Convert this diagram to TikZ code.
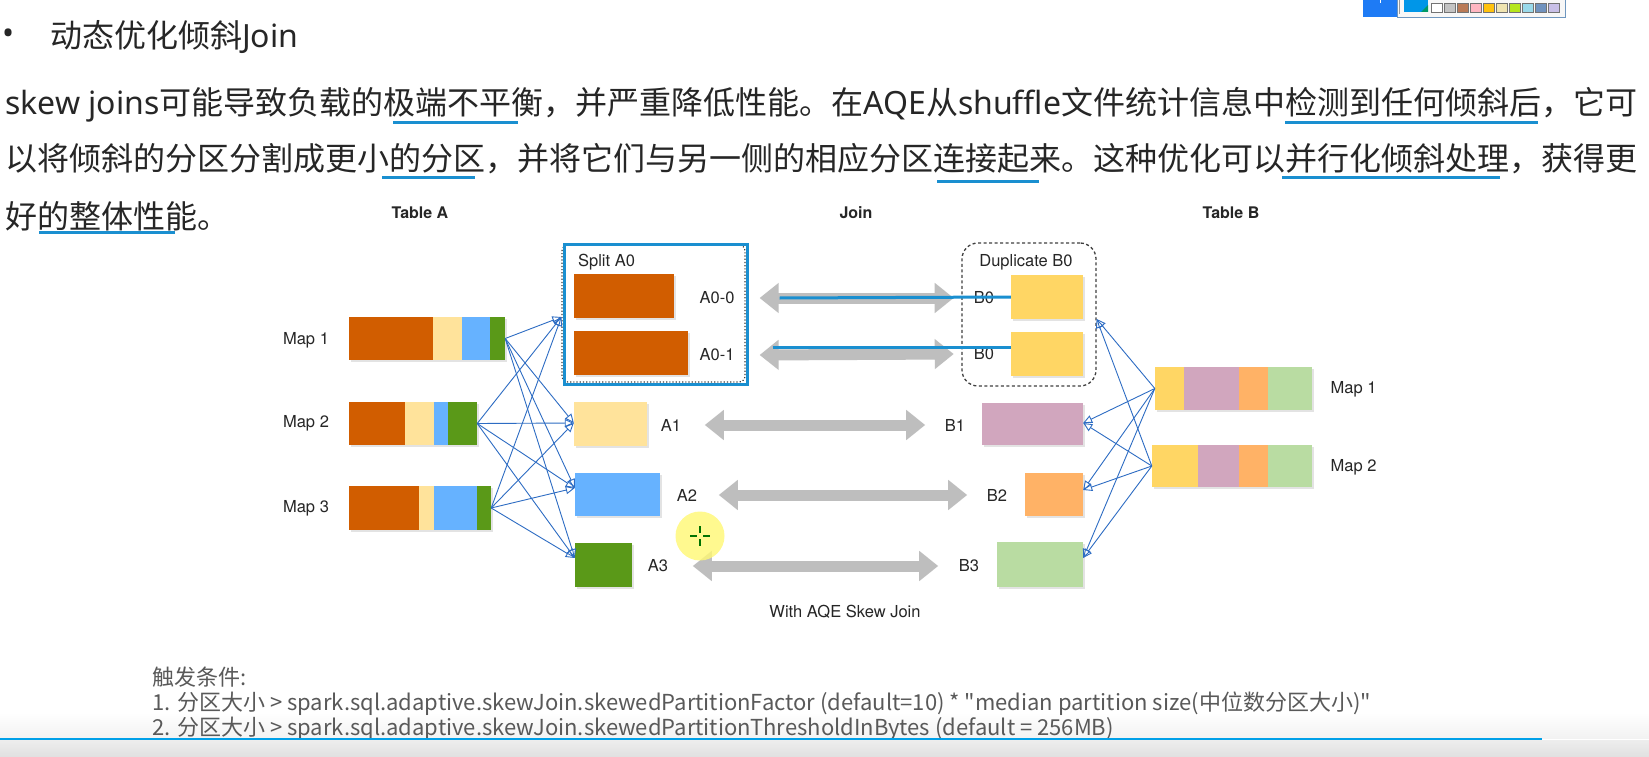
\documentclass[tikz,border=0pt]{standalone}
\usepackage{fontspec}
\setmainfont{Noto Sans}
\newfontfamily\zhfont{Noto Sans CJK SC}
\newfontfamily\diagfont{TeX Gyre Heros}
\font\qfont="Noto Sans CJK SC" at 22pt
\usetikzlibrary{arrows.meta,shadows}
\newcommand\zh[1]{{\zhfont #1}}
\newcommand\qt{{\qfont\char34}}
\definecolor{txt}{RGB}{38,38,38}
\definecolor{aorange}{RGB}{209,93,0}
\definecolor{ayellow}{RGB}{255,227,155}
\definecolor{ablue}{RGB}{102,178,255}
\definecolor{agreen}{RGB}{90,153,24}
\definecolor{byellow}{RGB}{255,214,100}
\definecolor{bmauve}{RGB}{209,166,190}
\definecolor{borange}{RGB}{255,178,102}
\definecolor{bgreen}{RGB}{185,220,162}
\definecolor{linkblue}{RGB}{45,108,195}
\definecolor{markblue}{RGB}{26,143,208}
\definecolor{arrowgray}{RGB}{190,190,190}
\definecolor{lineblue}{RGB}{0,160,232}
\definecolor{tbblue}{RGB}{30,123,245}
\definecolor{tbedge}{RGB}{110,150,190}
\definecolor{swblue}{RGB}{0,150,232}
\definecolor{swa}{RGB}{195,195,195}
\definecolor{swb}{RGB}{185,122,87}
\definecolor{swc}{RGB}{255,182,193}
\definecolor{swd}{RGB}{255,194,14}
\definecolor{swe}{RGB}{239,228,176}
\definecolor{swf}{RGB}{181,230,29}
\definecolor{swg}{RGB}{153,217,234}
\definecolor{swh}{RGB}{112,146,190}
\definecolor{swi}{RGB}{200,191,231}
\begin{document}
\begin{tikzpicture}[x=1pt,y=-1pt,
  part/.style={inner sep=0pt,drop shadow={shadow xshift=2pt,shadow yshift=-2pt,opacity=.22}},
  lbl/.style={inner sep=0pt,text=black!85,font=\diagfont\fontsize{16.5}{18}\selectfont},
  hdr/.style={inner sep=0pt,text=black!85,font=\diagfont\bfseries\fontsize{16}{18}\selectfont},
  link/.style={draw=linkblue,line width=.9pt,-{Triangle[open,length=9pt,width=8pt]}},
  wide/.style={draw=arrowgray,line width=11pt,{Triangle[length=19pt,width=29pt]}-{Triangle[length=19pt,width=29pt]}},
  hiline/.style={draw=markblue,line width=3pt},
  body/.style={anchor=base west,inner sep=0pt,text=txt,font=\fontsize{32}{32}\selectfont},
  foot/.style={anchor=base west,inner sep=0pt,text=black!65,font=\zhfont\fontsize{22}{22}\selectfont}]
\fill[white] (0,0) rectangle (1649,757);
\useasboundingbox (0,0) rectangle (1649,757);

\node[inner sep=0pt,text=txt,font=\fontsize{32}{32}\selectfont] (dot) at (9,37) {•};
\node[body] (title) at (50,48) {\zh{动态优化倾斜}Join};
\node[body] (line1) at (5,115) {skew joins\zh{可能导致负载的极端不平衡，并严重降低性能。在}AQE\zh{从}shuffle\zh{文件统计信息中检测到任何倾斜后，它可}};
\node[body] (line2) at (5,170) {\zh{以将倾斜的分区分割成更小的分区，并将它们与另一侧的相应分区连接起来。这种优化可以并行化倾斜处理，获得更}};
\node[body] (line3) at (5,228) {\zh{好的整体性能。}};
\draw[hiline] (393,122.5) -- (518,122.5);
\draw[hiline] (1285,122.5) -- (1538,122.5);
\draw[hiline] (382,177) -- (475,177);
\draw[hiline] (937,181) -- (1039,181);
\draw[hiline] (1282,177.5) -- (1500,177.5);
\draw[hiline] (39,232) -- (175,232);

\node[hdr] (ta) at (420,213) {Table A};
\node[hdr] (tj) at (856,213) {Join};
\node[hdr] (tb) at (1231,213) {Table B};

\node[part,fill=aorange,minimum width=156pt,minimum height=43pt] (am1) at (427,338.5) {};
\foreach \xa/\xb/\c in {433/462/ayellow,462/490/ablue,490/505/agreen} \fill[\c] (\xa,317) rectangle (\xb,360);
\node[part,fill=aorange,minimum width=128pt,minimum height=43pt] (am2) at (413,423.5) {};
\foreach \xa/\xb/\c in {405/434/ayellow,434/448/ablue,448/477/agreen} \fill[\c] (\xa,402) rectangle (\xb,445);
\node[part,fill=aorange,minimum width=142pt,minimum height=44pt] (am3) at (420,508) {};
\foreach \xa/\xb/\c in {419/434/ayellow,434/477/ablue,477/491/agreen} \fill[\c] (\xa,486) rectangle (\xb,530);
\node[lbl] (lam1) at (306,340) {Map 1};
\node[lbl] (lam2) at (306,423) {Map 2};
\node[lbl] (lam3) at (306,508) {Map 3};

\node[draw=black!75,dotted,line width=1.2pt,rounded corners=6pt,minimum width=183pt,minimum height=137pt,inner sep=0pt] (split) at (653.5,313.5) {};
\node[lbl] (lsplit) at (606.5,262) {Split A0};
\node[part,fill=aorange,minimum width=100pt,minimum height=44pt] (A00) at (624,296) {};
\node[part,fill=aorange,minimum width=114pt,minimum height=44pt] (A01) at (631,353) {};
\node[part,fill=ayellow,minimum width=73pt,minimum height=44pt] (A1) at (610.5,424) {};
\node[part,fill=ablue,minimum width=85pt,minimum height=43pt] (A2) at (617.5,494.5) {};
\node[part,fill=agreen,minimum width=57pt,minimum height=44pt] (A3) at (603.5,565) {};
\node[lbl] (la00) at (717,298) {A0-0};
\node[lbl] (la01) at (717,355) {A0-1};
\node[lbl] (la1) at (671,425) {A1};
\node[lbl] (la2) at (687,495) {A2};
\node[lbl] (la3) at (658,566) {A3};
\draw[hiline] (564,244) rectangle (747,384);

\node[draw=black!75,dash pattern=on 3pt off 2.5pt,line width=1.3pt,rounded corners=16pt,minimum width=134pt,minimum height=143pt,inner sep=0pt] (dup) at (1029,314.5) {};
\node[lbl] (ldup) at (1026,262) {Duplicate B0};
\node[part,fill=byellow,minimum width=72pt,minimum height=44pt] (B0a) at (1047,297) {};
\node[part,fill=byellow,minimum width=72pt,minimum height=44pt] (B0b) at (1047,354) {};
\node[part,fill=bmauve,minimum width=101pt,minimum height=42pt] (B1) at (1032.5,424) {};
\node[part,fill=borange,minimum width=58pt,minimum height=43pt] (B2) at (1054,494.5) {};
\node[part,fill=bgreen,minimum width=86pt,minimum height=45pt] (B3) at (1040,564.5) {};
\node[lbl] (lb0a) at (984,298) {B0};
\node[lbl] (lb0b) at (984,354) {B0};
\node[lbl] (lb1) at (955,425) {B1};
\node[lbl] (lb2) at (997,495) {B2};
\node[lbl] (lb3) at (969,566) {B3};

\node[part,fill=byellow,minimum width=157pt,minimum height=43pt] (bm1) at (1233.5,388.5) {};
\foreach \xa/\xb/\c in {1184/1239/bmauve,1239/1268/borange,1268/1312/bgreen} \fill[\c] (\xa,367) rectangle (\xb,410);
\node[part,fill=byellow,minimum width=160pt,minimum height=42pt] (bm2) at (1232,466) {};
\foreach \xa/\xb/\c in {1198/1239/bmauve,1239/1268/borange,1268/1312/bgreen} \fill[\c] (\xa,445) rectangle (\xb,487);
\node[lbl] (lbm1) at (1353.5,389) {Map 1};
\node[lbl] (lbm2) at (1353.5,467) {Map 2};

\foreach \s in {am1,am2,am3}
  \foreach \t/\dy in {split/-3.5,A1/1,A2/6.5,A3/7}
    \draw[link] (\s.east) -- ([yshift=\dy pt]\t.west);
\foreach \s in {bm1,bm2}
  \foreach \t/\dy in {dup/-4.5,B1/1,B2/4.5,B3/6.5}
    \draw[link] (\s.west) -- ([yshift=\dy pt]\t.east);

\draw[wide] ([xshift=25pt]la00.east) -- ([xshift=-20pt]lb0a.west);
\draw[wide] ([xshift=25pt]la01.east) -- ([xshift=-20pt]lb0b.west);
\draw[wide] ([xshift=23.5pt]la1.east) -- ([xshift=-19.5pt]lb1.west);
\draw[wide] ([xshift=21.5pt]la2.east) -- ([xshift=-19.5pt]lb2.west);
\draw[wide] ([xshift=24.5pt]la3.east) -- ([xshift=-20.5pt]lb3.west);
\draw[hiline] ([xshift=45pt]la00.east) -- (B0a.west);
\draw[hiline] ([xshift=38pt,yshift=8pt]la01.east) -- ([yshift=7pt]B0b.west);

\node[lbl] (cap) at (845,612) {With AQE Skew Join};

\fill[yellow!55!white,opacity=.8] (700,536) circle (24.5);
\draw[green!45!black,line width=1.4pt] (690,536) -- (697,536) (703,536) -- (710,536) (700,526) -- (700,533) (700,539) -- (700,546);

\shade[top color=white,bottom color=black!5] (0,712) rectangle (1649,738);
\node[foot] (cond) at (152,685) {触发条件:};
\node[foot] (cond1) at (152,710) {1. 分区大小 > spark.sql.adaptive.skewJoin.skewedPartitionFactor (default=10) * \qt median partition size(中位数分区大小)\qt};
\node[foot] (cond2) at (152,735) {2. 分区大小 > spark.sql.adaptive.skewJoin.skewedPartitionThresholdInBytes (default = 256MB)};
\shade[top color=black!7,bottom color=black!12] (0,740) rectangle (1649,757);
\draw[lineblue,line width=2.5pt] (0,739) -- (1542,739);

\fill[tbblue] (1363,0) rectangle (1397,17);
\fill[white] (1379.5,0) rectangle (1381,3);
\filldraw[fill=black!3,draw=tbedge] (1397,-1) rectangle (1565,17);
\draw[black!40] (1399,0) -- (1399,14);
\fill[swblue] (1404,0) rectangle (1428,12);
\fill[green!60!blue] (1421,12) -- (1428,12) -- (1428,5) -- cycle;
\foreach \c [count=\i from 0] in {white,swa,swb,swc,swd,swe,swf,swg,swh,swi}
  \filldraw[fill=\c,draw=black!55,line width=.6pt] ({1431+13*\i},3) rectangle ({1442+13*\i},12);
\end{tikzpicture}
\end{document}
